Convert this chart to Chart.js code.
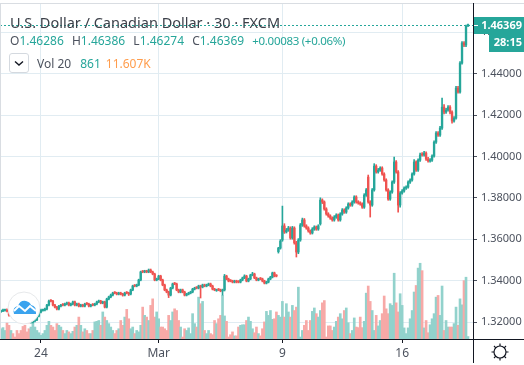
<!DOCTYPE html>
<html lang="en">

<head>
    <meta charset="UTF-8">
    <script src="https://cdn.jsdelivr.net/npm/chart.js"></script>
    <title>USD/CAD 30</title>
    <style>
        body { margin: 0; background: #fff; }
        #wrap { position: relative; width: 524px; height: 365px; overflow: hidden; font-family: "Noto Sans", sans-serif; color: #4c525e; }
        #myChart { position: absolute; left: 0; top: 0; }
        .row { position: absolute; left: 10px; white-space: pre; }
        #titulo { top: 12px; font-size: 14.5px; color: #3c4049; }
        #ohlc { top: 32px; font-size: 12px; }
        #ohlc .g { margin-left: 5px; }
        #ohlc .d { font-size: 11.5px; letter-spacing: -0.3px; }
        #vol { top: 55px; left: 37px; font-size: 12px; }
        .v { color: #26a69a; }
        .o { color: #ff9d4d; }
        #botao { position: absolute; left: 9px; top: 53px; width: 18px; height: 18px; border: 1px solid #d4d9df; border-radius: 3px; }
        #logo { position: absolute; left: 7px; top: 291px; }
        #engrenagem { position: absolute; left: 490px; top: 342px; }
    </style>
</head>

<body>
    <div id="wrap">
        <canvas id="myChart" width="524" height="365"></canvas>
        <div class="row" id="titulo">U.S. Dollar / Canadian Dollar · 30 · FXCM</div>
        <div class="row" id="ohlc">O<span class="v">1.46286</span><span class="g"> H</span><span class="v">1.46386</span><span class="g"> L</span><span class="v">1.46274</span><span class="g"> C</span><span class="v">1.46369</span> <span class="v d g">+0.00083 (+0.06%)</span></div>
        <div id="botao">
            <svg width="18" height="18"><path d="M5 7.5 L9 11 L13 7.5" fill="none" stroke="#131722" stroke-width="1.4"/></svg>
        </div>
        <div class="row" id="vol">Vol 20<span class="v" style="margin-left:9px">861</span><span class="o" style="margin-left:5px">11.607K</span></div>
        <svg id="logo" width="34" height="34">
            <circle cx="17" cy="17" r="16" fill="#fff" stroke="#e6e8ea" stroke-width="1"/>
            <path d="M7 23 Q5 16 11 15 Q13 9 19 10 Q23 11 24 14 Q30 15 29 23 Z" fill="#3aa3ee"/>
            <path d="M7 20 L12 15 L18 20 L23 15 L29 20" fill="none" stroke="#fff" stroke-width="2"/>
        </svg>
        <svg id="engrenagem" width="20" height="20">
            <circle cx="10" cy="10" r="6" fill="none" stroke="#131722" stroke-width="1.2"/>
            <path d="M10 1.5V4M10 16V18.5M1.5 10H4M16 10H18.5M4 4L5.8 5.8M14.2 14.2L16 16M4 16L5.8 14.2M14.2 5.8L16 4" stroke="#131722" stroke-width="1.2"/>
        </svg>
    </div>
</body>

<script>
// dados, um candle por categoria (~2px)
const abre = [
    1.3250,1.3253,1.3256,1.3258,1.3253,1.3234,1.3239,1.3229,1.3221,1.3219,
    1.3214,1.3212,1.3210,1.3205,1.3202,1.3198,1.3200,1.3205,1.3210,1.3229,
    1.3248,1.3256,1.3258,1.3263,1.3282,1.3304,1.3301,1.3282,1.3272,1.3263,
    1.3277,1.3285,1.3282,1.3287,1.3292,1.3282,1.3287,1.3297,1.3282,1.3287,
    1.3277,1.3282,1.3277,1.3290,1.3287,1.3277,1.3285,1.3282,1.3287,1.3297,
    1.3301,1.3292,1.3297,1.3272,1.3311,1.3321,1.3330,1.3343,1.3340,1.3335,
    1.3340,1.3335,1.3330,1.3343,1.3340,1.3335,1.3355,1.3377,1.3374,1.3379,
    1.3403,1.3445,1.3442,1.3446,1.3442,1.3451,1.3442,1.3432,1.3403,1.3408,
    1.3422,1.3403,1.3379,1.3355,1.3345,1.3330,1.3364,1.3387,1.3384,1.3355,
    1.3345,1.3355,1.3345,1.3330,1.3335,1.3340,1.3345,1.3359,1.3367,1.3364,
    1.3374,1.3369,1.3379,1.3374,1.3379,1.3384,1.3374,1.3359,1.3352,1.3358,
    1.3355,1.3350,1.3355,1.3422,1.3408,1.3401,1.3398,1.3393,1.3398,1.3396,
    1.3393,1.3403,1.3413,1.3422,1.3398,1.3408,1.3427,1.3432,1.3413,1.3403,
    1.3411,1.3408,1.3398,1.3388,1.3393,1.3408,1.3417,1.3437,1.3425,1.3540,
    1.3557,1.3596,1.3664,1.3635,1.3644,1.3654,1.3606,1.3654,1.3582,1.3538,
    1.3596,1.3669,1.3693,1.3664,1.3654,1.3640,1.3630,1.3649,1.3659,1.3649,
    1.3674,1.3789,1.3780,1.3746,1.3722,1.3712,1.3702,1.3693,1.3707,1.3717,
    1.3693,1.3722,1.3741,1.3731,1.3751,1.3770,1.3765,1.3780,1.3804,1.3780,
    1.3775,1.3770,1.3755,1.3813,1.3900,1.3780,1.3765,1.3838,1.3953,1.3925,
    1.3934,1.3944,1.3915,1.3886,1.3838,1.3794,1.3828,1.3876,1.3973,1.3925,
    1.3765,1.3823,1.3833,1.3847,1.3852,1.3876,1.3886,1.3915,1.3973,1.3934,
    1.3982,1.4010,1.4007,1.4016,1.3987,1.3978,1.3982,1.4002,1.4069,1.4113,
    1.4103,1.4137,1.4238,1.4214,1.4224,1.4238,1.4214,1.4171,1.4185,1.4330,
    1.4311,1.4451,1.4548,1.4538,1.46286
];
const maxima = [
    1.3258,1.3263,1.3262,1.3264,1.3256,1.3243,1.3243,1.3233,1.3225,1.3223,
    1.3218,1.3216,1.3214,1.3209,1.3206,1.3204,1.3209,1.3214,1.3233,1.3252,
    1.3262,1.3262,1.3267,1.3286,1.3306,1.3308,1.3305,1.3286,1.3276,1.3281,
    1.3286,1.3289,1.3291,1.3296,1.3296,1.3291,1.3301,1.3301,1.3291,1.3291,
    1.3286,1.3286,1.3291,1.3294,1.3291,1.3286,1.3289,1.3291,1.3301,1.3306,
    1.3305,1.3301,1.3301,1.3315,1.3325,1.3335,1.3344,1.3347,1.3344,1.3344,
    1.3344,1.3339,1.3344,1.3347,1.3344,1.3359,1.3378,1.3381,1.3383,1.3407,
    1.3446,1.3449,1.3450,1.3450,1.3456,1.3456,1.3446,1.3436,1.3412,1.3426,
    1.3426,1.3407,1.3383,1.3359,1.3349,1.3368,1.3388,1.3391,1.3388,1.3359,
    1.3359,1.3359,1.3349,1.3339,1.3344,1.3349,1.3363,1.3368,1.3371,1.3378,
    1.3378,1.3383,1.3383,1.3383,1.3388,1.3388,1.3378,1.3363,1.3359,1.3362,
    1.3359,1.3359,1.3430,1.3426,1.3412,1.3405,1.3402,1.3402,1.3402,1.3400,
    1.3407,1.3417,1.3428,1.3426,1.3412,1.3431,1.3440,1.3436,1.3417,1.3412,
    1.3415,1.3412,1.3402,1.3397,1.3412,1.3421,1.3441,1.3441,1.3429,1.3561,
    1.3598,1.3760,1.3675,1.3652,1.3662,1.3660,1.3662,1.3660,1.3590,1.3603,
    1.3676,1.3702,1.3700,1.3670,1.3660,1.3645,1.3656,1.3665,1.3664,1.3670,
    1.3800,1.3795,1.3785,1.3752,1.3728,1.3718,1.3708,1.3714,1.3723,1.3722,
    1.3728,1.3748,1.3747,1.3757,1.3776,1.3776,1.3786,1.3810,1.3810,1.3786,
    1.3781,1.3776,1.3820,1.3845,1.3910,1.3786,1.3845,1.3965,1.3960,1.3942,
    1.3950,1.3950,1.3921,1.3892,1.3844,1.3834,1.3882,1.3997,1.3980,1.3931,
    1.3830,1.3840,1.3853,1.3858,1.3882,1.3892,1.3921,1.3985,1.3979,1.3988,
    1.4016,1.4018,1.4025,1.4022,1.3995,1.3990,1.4008,1.4075,1.4120,1.4120,
    1.4145,1.4282,1.4250,1.4232,1.4245,1.4245,1.4220,1.4192,1.4338,1.4338,
    1.4458,1.4555,1.4555,1.4634,1.46386
];
const minimas = [
    1.3246,1.3250,1.3252,1.3249,1.3228,1.3230,1.3225,1.3215,1.3215,1.3210,
    1.3206,1.3206,1.3201,1.3196,1.3196,1.3194,1.3196,1.3201,1.3206,1.3225,
    1.3244,1.3252,1.3254,1.3259,1.3278,1.3297,1.3278,1.3268,1.3258,1.3259,
    1.3273,1.3278,1.3278,1.3283,1.3278,1.3278,1.3283,1.3278,1.3278,1.3273,
    1.3273,1.3273,1.3273,1.3283,1.3273,1.3273,1.3278,1.3278,1.3283,1.3293,
    1.3288,1.3288,1.3268,1.3268,1.3307,1.3317,1.3326,1.3336,1.3331,1.3331,
    1.3331,1.3325,1.3326,1.3336,1.3328,1.3331,1.3351,1.3370,1.3370,1.3375,
    1.3399,1.3438,1.3438,1.3438,1.3438,1.3438,1.3428,1.3399,1.3399,1.3404,
    1.3399,1.3375,1.3351,1.3341,1.3318,1.3326,1.3360,1.3380,1.3351,1.3341,
    1.3341,1.3341,1.3326,1.3326,1.3331,1.3336,1.3341,1.3355,1.3360,1.3360,
    1.3316,1.3365,1.3370,1.3370,1.3375,1.3370,1.3355,1.3351,1.3348,1.3351,
    1.3346,1.3330,1.3350,1.3404,1.3394,1.3394,1.3389,1.3389,1.3389,1.3389,
    1.3389,1.3399,1.3409,1.3394,1.3394,1.3404,1.3423,1.3409,1.3399,1.3399,
    1.3404,1.3394,1.3384,1.3384,1.3389,1.3404,1.3413,1.3418,1.3418,1.3533,
    1.3552,1.3590,1.3628,1.3630,1.3638,1.3600,1.3600,1.3576,1.3514,1.3530,
    1.3590,1.3662,1.3658,1.3648,1.3634,1.3624,1.3625,1.3643,1.3643,1.3643,
    1.3668,1.3772,1.3740,1.3716,1.3706,1.3696,1.3687,1.3687,1.3701,1.3687,
    1.3687,1.3716,1.3725,1.3725,1.3745,1.3759,1.3759,1.3774,1.3774,1.3769,
    1.3764,1.3749,1.3749,1.3807,1.3774,1.3707,1.3759,1.3832,1.3919,1.3919,
    1.3928,1.3909,1.3880,1.3832,1.3788,1.3788,1.3822,1.3870,1.3919,1.3731,
    1.3755,1.3817,1.3827,1.3841,1.3846,1.3870,1.3880,1.3909,1.3928,1.3928,
    1.3976,1.4001,1.4001,1.3981,1.3972,1.3972,1.3976,1.3996,1.4063,1.4097,
    1.4097,1.4130,1.4205,1.4208,1.4218,1.4205,1.4160,1.4165,1.4180,1.4305,
    1.4305,1.4445,1.4530,1.4530,1.46274
];
const fecha = [
    1.3253,1.3258,1.3258,1.3253,1.3234,1.3239,1.3229,1.3219,1.3219,1.3214,
    1.3210,1.3210,1.3205,1.3200,1.3200,1.3200,1.3205,1.3210,1.3229,1.3248,
    1.3258,1.3258,1.3263,1.3282,1.3301,1.3301,1.3282,1.3272,1.3263,1.3277,
    1.3282,1.3282,1.3287,1.3292,1.3282,1.3287,1.3297,1.3282,1.3287,1.3277,
    1.3282,1.3277,1.3287,1.3287,1.3277,1.3282,1.3282,1.3287,1.3297,1.3301,
    1.3292,1.3297,1.3272,1.3311,1.3321,1.3330,1.3340,1.3340,1.3335,1.3340,
    1.3335,1.3330,1.3340,1.3340,1.3335,1.3355,1.3374,1.3374,1.3379,1.3403,
    1.3442,1.3442,1.3446,1.3442,1.3451,1.3442,1.3432,1.3403,1.3408,1.3422,
    1.3403,1.3379,1.3355,1.3345,1.3330,1.3364,1.3384,1.3384,1.3355,1.3345,
    1.3355,1.3345,1.3330,1.3335,1.3340,1.3345,1.3359,1.3364,1.3364,1.3374,
    1.3369,1.3379,1.3374,1.3379,1.3384,1.3374,1.3359,1.3355,1.3355,1.3355,
    1.3350,1.3355,1.3422,1.3408,1.3398,1.3398,1.3393,1.3398,1.3393,1.3393,
    1.3403,1.3413,1.3422,1.3398,1.3408,1.3427,1.3432,1.3413,1.3403,1.3408,
    1.3408,1.3398,1.3388,1.3393,1.3408,1.3417,1.3437,1.3422,1.3422,1.3557,
    1.3591,1.3664,1.3635,1.3644,1.3654,1.3606,1.3654,1.3582,1.3538,1.3596,
    1.3669,1.3693,1.3664,1.3654,1.3640,1.3630,1.3649,1.3659,1.3649,1.3664,
    1.3789,1.3780,1.3746,1.3722,1.3712,1.3702,1.3693,1.3707,1.3717,1.3693,
    1.3722,1.3741,1.3731,1.3751,1.3770,1.3765,1.3780,1.3804,1.3780,1.3775,
    1.3770,1.3755,1.3813,1.3838,1.3780,1.3765,1.3838,1.3953,1.3925,1.3934,
    1.3944,1.3915,1.3886,1.3838,1.3794,1.3828,1.3876,1.3973,1.3925,1.3765,
    1.3823,1.3833,1.3847,1.3852,1.3876,1.3886,1.3915,1.3973,1.3934,1.3982,
    1.4007,1.4007,1.4016,1.3987,1.3978,1.3982,1.4002,1.4069,1.4113,1.4103,
    1.4137,1.4238,1.4214,1.4224,1.4238,1.4214,1.4171,1.4185,1.4330,1.4311,
    1.4451,1.4548,1.4538,1.4629,1.46369
];
// volume em milhares
const volume = [
    3.6,4.0,3.0,5.6,4.8,3.0,1.9,0.7,3.0,1.9,3.0,4.4,4.8,2.5,3.6,4.2,6.0,4.2,3.0,2.2,
    1.3,1.9,3.0,4.8,6.2,4.8,4.2,3.0,5.4,4.8,4.2,3.0,1.9,3.0,2.5,1.9,2.7,4.2,4.8,7.7,
    4.8,2.5,3.6,3.0,1.9,1.9,3.0,6.0,6.2,6.5,4.8,9.5,7.7,6.5,5.4,4.2,3.0,1.9,3.0,3.6,
    6.5,4.8,7.7,10.4,7.1,3.6,4.2,1.9,3.0,2.5,4.8,11.2,8.3,7.7,6.5,11.8,14.1,7.7,9.5,7.1,
    4.2,4.2,3.6,3.0,8.3,6.5,9.5,10.6,10.0,6.5,4.2,0.7,3.6,3.0,3.9,1.9,8.9,5.4,4.2,14.7,
    12.4,13.2,3.0,1.9,3.0,1.9,1.5,6.5,5.4,7.1,8.3,15.3,8.1,6.2,0.7,1.5,2.5,1.1,1.1,4.2,
    4.8,5.0,5.0,6.5,7.7,6.2,3.6,2.2,4.2,1.9,1.1,3.6,6.0,9.7,8.3,10.0,6.9,7.1,9.5,8.3,
    7.7,13.2,7.7,12.4,9.5,7.7,11.8,10.0,11.2,18.2,0.7,3.0,4.8,6.5,3.0,6.5,9.7,10.9,8.9,7.7,
    10.0,12.7,13.5,0.7,4.6,4.6,3.0,4.2,6.2,7.7,8.9,7.1,10.0,10.9,5.7,1.9,3.0,7.4,4.2,4.0,
    7.7,4.0,6.2,16.1,18.6,13.2,10.0,3.0,8.3,4.6,6.5,8.9,15.1,10.6,8.9,12.4,11.8,23.1,12.7,9.5,
    15.9,11.8,3.9,1.9,3.9,7.1,10.0,16.5,18.8,24.9,26.6,24.0,3.9,6.5,2.2,5.0,7.1,8.9,14.7,15.3,
    8.3,18.6,3.0,6.5,4.2,4.2,4.2,5.4,11.2,4.8,14.1,12.0,20.5,21.7,0.861
];
const totalCategorias = 237;
const posicaoDatas = [20, 79, 141, 201];
const nomesDatas = ['24', 'Mar', '9', '16'];
const ticksPreco = [1.32, 1.34, 1.36, 1.38, 1.40, 1.42, 1.44, 1.46];
const ultimoPreco = 1.46369;
const contagem = '28:15';

const VERDE = '#26a69a';
const VERMELHO = '#ef5350';

let labels = [];
for (let i = 0; i < totalCategorias; i++) {
    let p = posicaoDatas.indexOf(i);
    labels.push(p >= 0 ? nomesDatas[p] : '');
}

const sobe = fecha.map((c, i) => c >= abre[i]);

// linha tracejada do ultimo preco, etiquetas e borda
const extras = {
    id: 'extras',
    afterDatasetsDraw(chart) {
        const c = chart.ctx, a = chart.chartArea, y = Math.round(chart.scales.y.getPixelForValue(ultimoPreco)) + 0.5;
        c.save();
        c.strokeStyle = VERDE;
        c.setLineDash([2, 2]);
        c.beginPath(); c.moveTo(a.left, y); c.lineTo(a.right, y); c.stroke();
        c.setLineDash([]);

        c.strokeStyle = '#d9dde2';
        c.beginPath(); c.moveTo(0, 3.5); c.lineTo(524, 3.5); c.moveTo(0.5, 3); c.lineTo(0.5, a.bottom); c.stroke();

        c.strokeStyle = '#131722';
        c.beginPath(); c.moveTo(a.right + 0.5, a.top); c.lineTo(a.right + 0.5, 363); c.stroke();
        c.beginPath(); c.moveTo(a.right, a.bottom + 0.5); c.lineTo(524, a.bottom + 0.5); c.stroke();

        c.fillStyle = VERDE;
        c.fillRect(a.right + 1, y - 8.5, 50, 17);
        c.fillRect(489, y + 8.5, 35, 18);
        c.strokeStyle = '#fff';
        c.beginPath(); c.moveTo(a.right + 1, y); c.lineTo(a.right + 5, y); c.stroke();
        c.fillStyle = '#fff';
        c.font = 'bold 11px "Noto Sans"';
        c.textAlign = 'right';
        c.textBaseline = 'middle';
        c.fillText(ultimoPreco.toFixed(5), 522, y);
        c.fillText(contagem, 522, y + 17.5);
        c.restore();
    }
};

new Chart(document.getElementById('myChart'), {
    type: 'bar',
    data: {
        labels: labels,
        datasets: [
            {
                data: abre.map((o, i) => [o, fecha[i]]),
                backgroundColor: sobe.map(s => s ? VERDE : VERMELHO),
                barThickness: 1.7,
                minBarLength: 1,
                grouped: false,
                order: 1
            },
            {
                data: minimas.map((l, i) => [l, maxima[i]]),
                backgroundColor: sobe.map(s => s ? VERDE : VERMELHO),
                barThickness: 1,
                grouped: false,
                order: 2
            },
            {
                data: volume,
                yAxisID: 'yVol',
                backgroundColor: sobe.map(s => s ? '#92d2cc' : '#f7a9a7'),
                barThickness: 2,
                grouped: false,
                order: 3
            }
        ]
    },
    options: {
        responsive: false,
        animation: false,
        layout: { padding: { top: 3 } },
        plugins: { legend: { display: false }, tooltip: { enabled: false } },
        scales: {
            x: {
                offset: true,
                grid: { offset: false, color: '#e1ecf2', tickColor: '#131722', tickLength: 4 },
                border: { color: '#131722' },
                ticks: { autoSkip: false, maxRotation: 0, padding: 3, color: '#4c525e', font: { family: 'Noto Sans', size: 12 } },
                afterBuildTicks: axis => { axis.ticks = posicaoDatas.map(v => ({ value: v })); },
                afterFit: axis => { axis.height = 26; axis.paddingLeft = 0; axis.paddingRight = 0; }
            },
            y: {
                position: 'right',
                min: 1.3118,
                max: 1.4741,
                grid: { color: '#e1ecf2', tickColor: '#4c525e', tickLength: 4 },
                border: { color: '#131722' },
                ticks: { padding: 4, color: '#4c525e', font: { family: 'Noto Sans', size: 11 }, callback: v => v.toFixed(5) },
                afterBuildTicks: axis => { axis.ticks = ticksPreco.map(v => ({ value: v })); },
                afterFit: axis => { axis.width = 51; axis.paddingTop = 0; axis.paddingBottom = 0; }
            },
            yVol: {
                display: false,
                position: 'left',
                min: 0,
                max: 118
            }
        }
    },
    plugins: [extras]
});
</script>

</html>
